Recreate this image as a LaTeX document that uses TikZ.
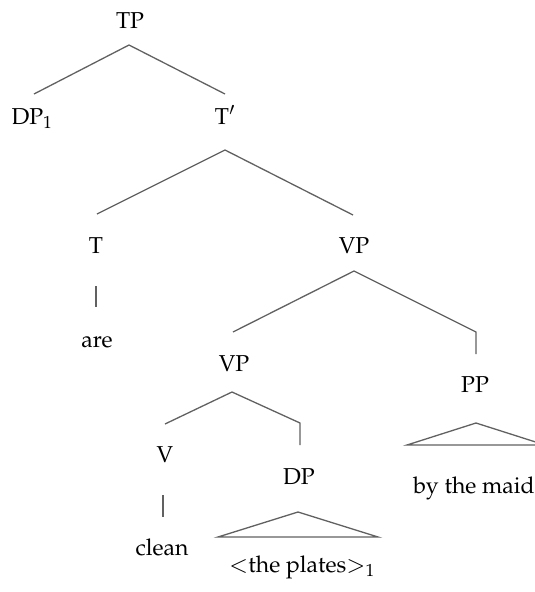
\documentclass[tikz,border=0pt]{standalone}
\usepackage[T1]{fontenc}
\usepackage{mathpazo}
\begin{document}
\begin{tikzpicture}[x=1pt,y=-1pt,
  lbl/.style={anchor=base,inner sep=0pt,font=\fontsize{23}{27}\selectfont},
  branch/.style={draw=black!62,line width=1.3pt,line join=miter},
  tri/.style={branch}]
\useasboundingbox (0,0) rectangle (535,592);
\clip (0,0) rectangle (535,592);

% category and word labels
\node[lbl] (TP)   at (130,28)  {TP};
\node[lbl] (DP1)  at (32,124)  {DP$_1$};
\node[lbl] (Tbar) at (225,124) {T$'$};
\node[lbl] (T)    at (96,253)  {T};
\node[lbl] (are)  at (97,347)  {are};
\node[lbl] (VP)   at (354,253) {VP};
\node[lbl] (VPb)  at (234,371) {VP};
\node[lbl] (PP)   at (475,392) {PP};
\node[lbl] (V)    at (165,462) {V};
\node[lbl] (DP)   at (299,484) {DP};
\node[lbl] (clean) at (162,555) {clean};
\node[lbl] (plates) at (302,572) {$<$the plates$>_1$};
\node[lbl] (maid) at (474,493) {by the maid};

% branch end points
\coordinate (TP-top) at (129,45);
\coordinate (TP-l) at (34,94);
\coordinate (TP-r) at (225,94);
\coordinate (Tbar-top) at (225,150);
\coordinate (Tbar-l) at (97,214);
\coordinate (Tbar-r) at (353,215);
\coordinate (T-a) at (96,286);
\coordinate (T-b) at (96,307);
\coordinate (VP-top) at (354,271);
\coordinate (VP-l) at (233,332);
\coordinate (VP-r) at (476,332);
\coordinate (VP-rd) at (476,354);
\coordinate (VPb-top) at (232,392);
\coordinate (VPb-l) at (165,424);
\coordinate (VPb-r) at (300,423);
\coordinate (VPb-rd) at (300,445);
\coordinate (V-a) at (163,495);
\coordinate (V-b) at (163,517);
\coordinate (DPt-top) at (298,512);
\coordinate (DPt-l) at (218,537);
\coordinate (DPt-r) at (378,537);
\coordinate (PPt-top) at (476,423);
\coordinate (PPt-l) at (407,445);
\coordinate (PPt-r) at (545,445);

% branches
\draw[branch] (TP-l) -- (TP-top) -- (TP-r);
\draw[branch] (Tbar-l) -- (Tbar-top) -- (Tbar-r);
\draw[branch] (T-a) -- (T-b);
\draw[branch] (VP-l) -- (VP-top) -- (VP-r) -- (VP-rd);
\draw[branch] (VPb-l) -- (VPb-top) -- (VPb-r) -- (VPb-rd);
\draw[branch] (V-a) -- (V-b);
\draw[tri] (DPt-l) -- (DPt-top) -- (DPt-r) -- cycle;
\draw[tri] (PPt-l) -- (PPt-top) -- (PPt-r) -- cycle;
\end{tikzpicture}
\end{document}
